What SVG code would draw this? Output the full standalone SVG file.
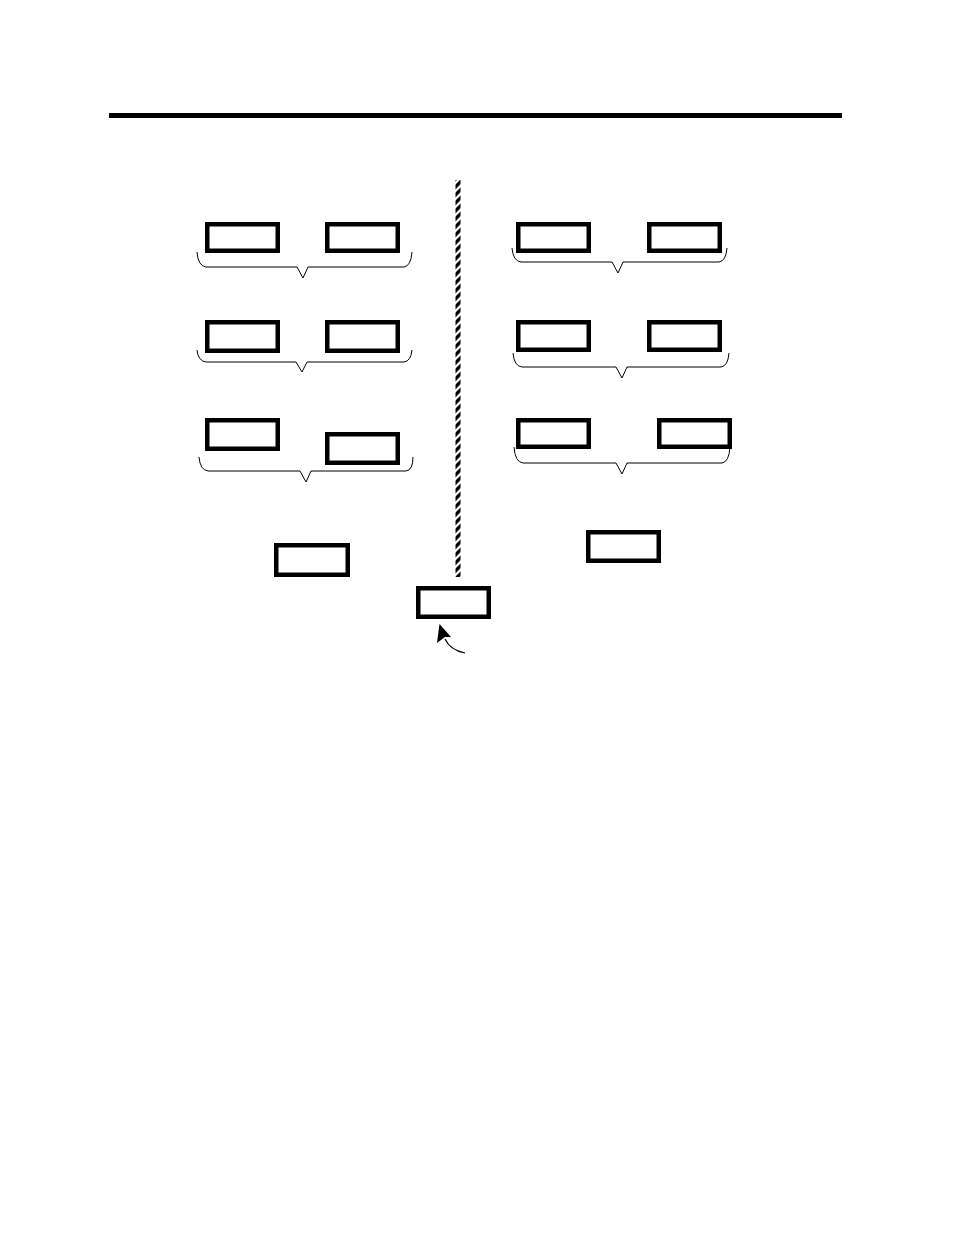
<svg xmlns="http://www.w3.org/2000/svg" width="954" height="1235" viewBox="0 0 954 1235">
<style>
.box{fill:#fff;stroke:#000;stroke-width:4.5}
.brace{fill:none;stroke:#000;stroke-width:1}
</style>
<defs>
<pattern id="stripe" patternUnits="userSpaceOnUse" width="10" height="8" patternTransform="skewY(-45)">
<rect x="0" y="0" width="10" height="4.8" fill="#000"/>
</pattern>
</defs>
<rect width="954" height="1235" fill="#fff"/>
<line x1="109" y1="115.5" x2="842" y2="115.5" stroke="#000" stroke-width="5"/>
<g id="divider">
<rect x="455.5" y="180" width="5" height="397" fill="url(#stripe)"/>
</g>
<g id="connectors">
<path class="brace" d="M197,252 Q198,266 206,267 L297,267 L303,278 L308,267 L404,267 Q411,266 412,252"/>
<path class="brace" d="M197,350 Q198,361 206,362 L296,362 L302,372 L307,362 L404,362 Q411,361 412,350"/>
<path class="brace" d="M199,457 Q200,470 208,471 L300,471 L306,482 L311,471 L406,471 Q413,470 413,457"/>
<path class="brace" d="M512,248 Q513,261 521,262 L612,262 L618,273 L623,262 L719,262 Q726,261 727,248"/>
<path class="brace" d="M513,353 Q514,366 522,367 L616,367 L622,378 L627,367 L721,367 Q728,366 729,353"/>
<path class="brace" d="M514,447 Q515,462 523,463 L616,463 L622,474 L627,463 L722,463 Q729,462 730,447"/>
<path d="M465,653 Q450,650 445,639" fill="none" stroke="#000" stroke-width="1.2"/>
<polygon points="439.5,624 451,637 445,637 437,643" fill="#000"/>
</g>
<g id="n1"><rect class="box" x="207.25" y="224.25" width="70.5" height="26.5"/></g>
<g id="n2"><rect class="box" x="327.25" y="224.25" width="70.5" height="26.5"/></g>
<g id="n3"><rect class="box" x="207.25" y="322.25" width="70.5" height="28.5"/></g>
<g id="n4"><rect class="box" x="327.25" y="322.25" width="70.5" height="28.5"/></g>
<g id="n5"><rect class="box" x="207.25" y="420.25" width="70.5" height="28.5"/></g>
<g id="n6"><rect class="box" x="327.25" y="434.25" width="70.5" height="28.5"/></g>
<g id="n7"><rect class="box" x="276.25" y="545.25" width="71.5" height="29.5"/></g>
<g id="n8"><rect class="box" x="418.25" y="588.25" width="70.5" height="28.5"/></g>
<g id="n9"><rect class="box" x="518.25" y="224.25" width="70.5" height="26.5"/></g>
<g id="n10"><rect class="box" x="649.25" y="224.25" width="70.5" height="26.5"/></g>
<g id="n11"><rect class="box" x="518.25" y="322.25" width="70.5" height="27.5"/></g>
<g id="n12"><rect class="box" x="649.25" y="322.25" width="70.5" height="27.5"/></g>
<g id="n13"><rect class="box" x="518.25" y="420.25" width="70.5" height="26.5"/></g>
<g id="n14"><rect class="box" x="659.25" y="420.25" width="70.5" height="26.5"/></g>
<g id="n15"><rect class="box" x="588.25" y="532.25" width="70.5" height="28.5"/></g>
</svg>
